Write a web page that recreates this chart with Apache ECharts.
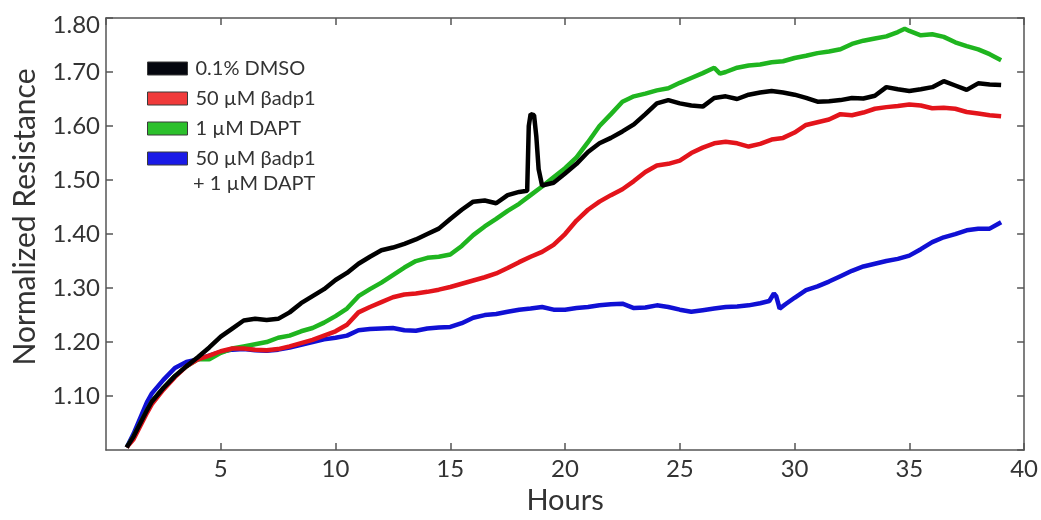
<!DOCTYPE html>
<html>
<head>
<meta charset="utf-8">
<script src="https://cdn.jsdelivr.net/npm/echarts@6/dist/echarts.min.js"></script>
<style>
html,body{margin:0;padding:0;background:#fff;}
#chart{width:1041px;height:520px;}
</style>
</head>
<body>
<div id="chart"></div>
<script>
// ---- data (hours, normalized resistance) ----
var seriesNames = ['0.1% DMSO', '50 µM βadp1', '1 µM DAPT', '50 µM βadp1 + 1 µM DAPT'];
var legendLabels = ['0.1% DMSO', '50 µM βadp1', '1 µM DAPT', '50 µM βadp1'];
var legendExtraLine = '+ 1 µM DAPT';
var xTicks = [5, 10, 15, 20, 25, 30, 35, 40];
var yTicks = ['1.10', '1.20', '1.30', '1.40', '1.50', '1.60', '1.70', '1.80'];

var dmsoHours = [0.9,1.2,1.5,1.8,2.0,2.5,3.0,3.5,4.0,4.5,5.0,5.5,6.0,6.5,7.0,7.5,8.0,8.5,9.0,9.5,10,10.5,11,11.5,12,12.5,13,13.5,14,14.5,15,15.5,16,16.5,17,17.5,18,18.35,18.42,18.5,18.65,18.75,18.85,19.0,19.5,20,20.5,21,21.5,22,22.5,23,23.5,24,24.5,25,25.5,26,26.5,27,27.5,28,28.5,29,29.5,30,30.5,31,31.5,32,32.5,33,33.5,34,34.5,35,35.5,36,36.5,37,37.5,38,38.5,39];
var dmsoValues = [1.005,1.025,1.05,1.075,1.09,1.115,1.137,1.155,1.172,1.19,1.21,1.225,1.24,1.243,1.241,1.243,1.255,1.272,1.285,1.298,1.315,1.328,1.345,1.358,1.37,1.375,1.382,1.39,1.4,1.41,1.428,1.445,1.46,1.462,1.457,1.472,1.478,1.48,1.60,1.622,1.62,1.58,1.52,1.49,1.495,1.512,1.53,1.552,1.568,1.578,1.59,1.603,1.622,1.642,1.648,1.642,1.638,1.636,1.652,1.655,1.65,1.658,1.662,1.665,1.662,1.658,1.652,1.645,1.646,1.648,1.652,1.651,1.656,1.672,1.668,1.665,1.668,1.672,1.683,1.675,1.667,1.679,1.677,1.676];

var badpHours = [0.9,1.2,1.5,1.8,2.0,2.5,3.0,3.5,4.0,4.5,5.0,5.5,6.0,6.5,7.0,7.5,8.0,8.5,9.0,9.5,10,10.5,11,11.5,12,12.5,13,13.5,14,14.5,15,15.5,16,16.5,17,17.5,18,18.5,19,19.5,20,20.5,21,21.5,22,22.5,23,23.5,24,24.5,25,25.5,26,26.5,27,27.5,28,28.5,29,29.5,30,30.5,31,31.5,32,32.5,33,33.5,34,34.5,35,35.5,36,36.5,37,37.5,38,38.5,39];
var badpValues = [1.005,1.02,1.045,1.07,1.085,1.112,1.135,1.155,1.168,1.175,1.183,1.188,1.188,1.186,1.185,1.187,1.192,1.198,1.204,1.212,1.22,1.232,1.255,1.265,1.274,1.283,1.288,1.29,1.293,1.297,1.302,1.308,1.314,1.32,1.327,1.337,1.348,1.358,1.367,1.38,1.40,1.425,1.445,1.46,1.472,1.483,1.498,1.515,1.527,1.53,1.536,1.55,1.56,1.568,1.571,1.568,1.562,1.567,1.575,1.578,1.588,1.602,1.607,1.612,1.622,1.62,1.625,1.632,1.635,1.637,1.64,1.638,1.633,1.634,1.632,1.626,1.623,1.62,1.618];

var daptHours = [0.9,1.2,1.5,1.8,2.0,2.5,3.0,3.5,4.0,4.5,5.0,5.5,6.0,6.5,7.0,7.5,8.0,8.5,9.0,9.5,10,10.5,11,11.5,12,12.5,13,13.5,14,14.5,15,15.5,16,16.5,17,17.5,18,18.5,19,19.5,20,20.5,21,21.5,22,22.5,23,23.5,24,24.5,25,25.5,26,26.5,26.75,27,27.5,28,28.5,29,29.5,30,30.5,31,31.5,32,32.5,33,33.5,34,34.5,34.8,35,35.5,36,36.5,37,37.5,38,38.5,39];
var daptValues = [1.005,1.025,1.05,1.075,1.09,1.115,1.137,1.155,1.168,1.168,1.18,1.188,1.192,1.196,1.20,1.208,1.212,1.22,1.226,1.236,1.248,1.262,1.285,1.298,1.31,1.324,1.338,1.35,1.356,1.358,1.362,1.378,1.398,1.414,1.428,1.443,1.456,1.472,1.488,1.505,1.522,1.542,1.57,1.60,1.622,1.645,1.655,1.66,1.666,1.67,1.68,1.689,1.698,1.708,1.697,1.70,1.708,1.712,1.714,1.718,1.72,1.726,1.73,1.735,1.738,1.742,1.752,1.758,1.762,1.766,1.774,1.78,1.776,1.768,1.77,1.765,1.755,1.748,1.742,1.733,1.722];

var comboHours = [0.9,1.2,1.5,1.8,2.0,2.5,3.0,3.5,4.0,4.5,5.0,5.5,6.0,6.5,7.0,7.5,8.0,8.5,9.0,9.5,10,10.5,11,11.5,12,12.5,13,13.5,14,14.5,15,15.5,16,16.5,17,17.5,18,18.5,19,19.5,20,20.5,21,21.5,22,22.5,23,23.5,24,24.5,25,25.5,26,26.5,27,27.5,28,28.5,28.9,29.1,29.2,29.35,29.6,30,30.5,31,31.5,32,32.5,33,33.5,34,34.5,35,35.5,36,36.5,37,37.5,38,38.5,39];
var comboValues = [1.005,1.03,1.06,1.09,1.105,1.13,1.152,1.163,1.168,1.175,1.182,1.186,1.187,1.185,1.184,1.186,1.19,1.195,1.20,1.205,1.208,1.212,1.222,1.224,1.225,1.226,1.222,1.221,1.225,1.227,1.228,1.235,1.245,1.25,1.252,1.256,1.26,1.262,1.265,1.26,1.26,1.263,1.265,1.268,1.27,1.271,1.263,1.264,1.268,1.265,1.26,1.256,1.259,1.262,1.265,1.266,1.268,1.272,1.276,1.29,1.285,1.262,1.27,1.282,1.296,1.303,1.312,1.322,1.332,1.34,1.345,1.35,1.354,1.36,1.372,1.385,1.394,1.40,1.407,1.41,1.41,1.422];

var seriesColors = ['#000000', '#e3141b', '#1fb51f', '#1010d4'];
var legendColors = ['#05070f', '#f03a3a', '#2cc02c', '#1a1ae6'];

function pairs(h, v) { return h.map(function (x, i) { return [x, v[i]]; }); }

var FONT = 'Lato';
var TEXT = '#333333';
var AXIS = '#555555';

var chart = echarts.init(document.getElementById('chart'));

var baseX = {
  type: 'value', min: 0, max: 40, interval: 5,
  axisLine: { show: true, onZero: false, lineStyle: { color: AXIS, width: 1.5 } },
  axisTick: { show: true, inside: true, length: 7, lineStyle: { color: AXIS, width: 1.5 } },
  splitLine: { show: false }
};
var baseY = {
  type: 'value', min: 1.0, max: 1.8, interval: 0.1,
  axisLine: { show: true, onZero: false, lineStyle: { color: AXIS, width: 1.5 } },
  axisTick: { show: true, inside: true, length: 7, lineStyle: { color: AXIS, width: 1.5 } },
  splitLine: { show: false }
};

var legendData = seriesNames.map(function (n, i) {
  return { name: n, itemStyle: { color: legendColors[i], borderColor: '#3a3a3a', borderWidth: 1 } };
});

var option = {
  animation: false,
  backgroundColor: '#ffffff',
  grid: { left: 106, right: 12, top: 18, bottom: 60 },
  legend: {
    orient: 'vertical', left: 142, top: 52,
    icon: 'rect', itemWidth: 40, itemHeight: 13, itemGap: 7,
    data: legendData,
    formatter: function (name) { return legendLabels[seriesNames.indexOf(name)]; },
    textStyle: { fontFamily: FONT, fontSize: 20, color: TEXT, lineHeight: 23, padding: [0, 0, 0, 3] },
    selectedMode: false
  },
  xAxis: [
    Object.assign({}, baseX, {
      position: 'bottom',
      name: 'Hours', nameLocation: 'middle', nameGap: 27,
      nameTextStyle: { fontFamily: FONT, fontSize: 29, color: TEXT },
      axisLabel: { show: true, showMinLabel: false, margin: 7, fontFamily: FONT, fontSize: 24, color: TEXT,
        formatter: function (v) { return xTicks.indexOf(v) >= 0 ? String(v) : ''; } }
    }),
    Object.assign({}, baseX, { position: 'top', axisLabel: { show: false } })
  ],
  yAxis: [
    Object.assign({}, baseY, {
      position: 'left',
      axisLabel: { show: true, showMinLabel: false, margin: 6, fontFamily: FONT, fontSize: 24, color: TEXT,
        formatter: function (v) {
          var s = v.toFixed(2);
          if (yTicks.indexOf(s) < 0) return '';
          return s === '1.80' ? '{top|' + s + '}' : s;
        },
        rich: { top: { fontFamily: FONT, fontSize: 24, color: TEXT, padding: [14, 0, 0, 0] } }
      }
    }),
    Object.assign({}, baseY, { position: 'right', axisLabel: { show: false } })
  ],
  graphic: [
    { type: 'text', x: 25, y: 217, rotation: Math.PI / 2,
      style: { text: 'Normalized Resistance', fontFamily: FONT, fontSize: 30, fill: TEXT, align: 'center', verticalAlign: 'middle' } },
    { type: 'text', x: 193, y: 174,
      style: { text: legendExtraLine, fontFamily: FONT, fontSize: 20, fill: TEXT } }
  ],
  series: [
    { name: seriesNames[3], type: 'line', z: 2, showSymbol: false, data: pairs(comboHours, comboValues), lineStyle: { width: 4.5, color: seriesColors[3] }, itemStyle: { color: seriesColors[3] } },
    { name: seriesNames[2], type: 'line', z: 3, showSymbol: false, data: pairs(daptHours, daptValues), lineStyle: { width: 4.5, color: seriesColors[2] }, itemStyle: { color: seriesColors[2] } },
    { name: seriesNames[1], type: 'line', z: 4, showSymbol: false, data: pairs(badpHours, badpValues), lineStyle: { width: 4.5, color: seriesColors[1] }, itemStyle: { color: seriesColors[1] } },
    { name: seriesNames[0], type: 'line', z: 5, showSymbol: false, data: pairs(dmsoHours, dmsoValues), lineStyle: { width: 4.5, color: seriesColors[0] }, itemStyle: { color: seriesColors[0] } }
  ]
};
chart.setOption(option);
</script>
</body>
</html>
